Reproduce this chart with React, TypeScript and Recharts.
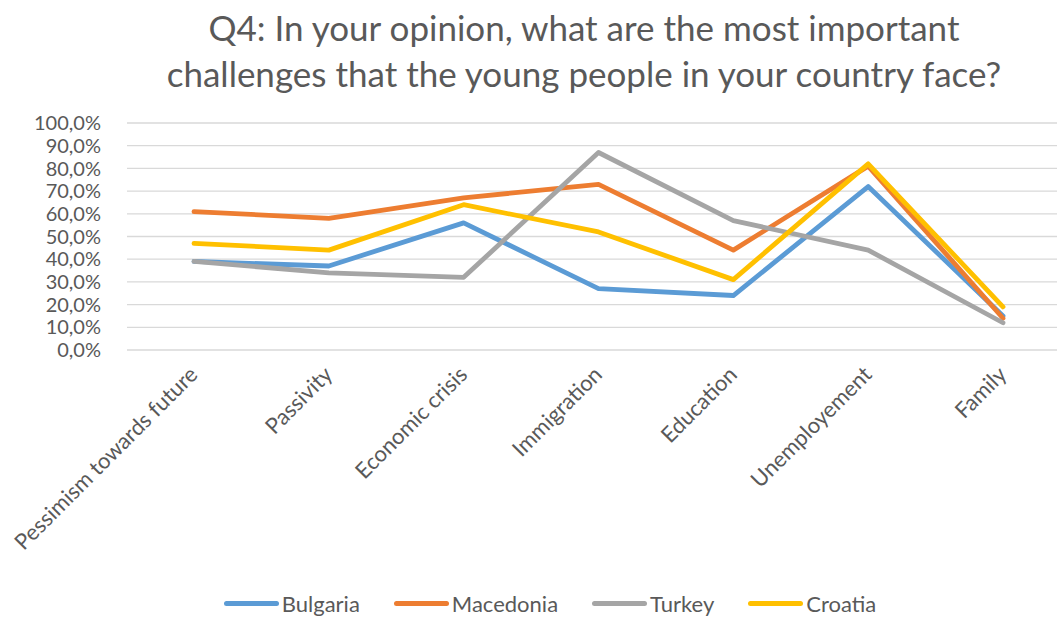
import { LineChart, Line, XAxis, YAxis, CartesianGrid } from "recharts";

const categories = [
  "Pessimism towards future",
  "Passivity",
  "Economic crisis",
  "Immigration",
  "Education",
  "Unemployement",
  "Family",
];

const bulgaria = [39, 37, 56, 27, 24, 72, 15];
const macedonia = [61, 58, 67, 73, 44, 81, 14];
const turkey = [39, 34, 32, 87, 57, 44, 12];
const croatia = [47, 44, 64, 52, 31, 82, 19];

const yTicks = [0, 10, 20, 30, 40, 50, 60, 70, 80, 90, 100];

const series = [
  { key: "Bulgaria", values: bulgaria, color: "#5B9BD5" },
  { key: "Macedonia", values: macedonia, color: "#ED7D31" },
  { key: "Turkey", values: turkey, color: "#A5A5A5" },
  { key: "Croatia", values: croatia, color: "#FFC000" },
];

const data = categories.map((name, i) => {
  const row: Record<string, string | number> = { name };
  series.forEach((s) => {
    row[s.key] = s.values[i];
  });
  return row;
});

const FONT = "Lato, 'Open Sans', sans-serif";
const TEXT = "#595959";

function XTick(props: any) {
  const { x, y, payload } = props;
  const ax = x + 5;
  const ay = y + 18;
  return (
    <text
      x={ax}
      y={ay}
      textAnchor="end"
      fill={TEXT}
      fontSize={22}
      fontFamily={FONT}
      transform={`rotate(-45, ${ax}, ${ay})`}
    >
      {payload.value}
    </text>
  );
}

export default function App() {
  return (
    <div
      style={{
        position: "absolute",
        left: 0,
        top: 0,
        width: 1057,
        height: 617,
        overflow: "hidden",
        background: "#fff",
        fontFamily: FONT,
      }}
    >
      <div
        style={{
          position: "absolute",
          left: 84,
          width: 1000,
          top: 4,
          textAlign: "center",
          color: TEXT,
          fontSize: 35,
          lineHeight: "46px",
        }}
      >
        Q4: In your opinion, what are the most important
        <br />
        challenges that the young people in your country face?
      </div>
      <LineChart
        width={1070}
        height={617}
        data={data}
        margin={{ top: 123, right: 0, left: 0, bottom: 0 }}
        style={{ position: "absolute", left: 0, top: 0 }}
      >
        <CartesianGrid vertical={false} stroke="#D9D9D9" strokeWidth={1.3} />
        <XAxis
          dataKey="name"
          axisLine={false}
          tickLine={false}
          interval={0}
          height={267}
          padding={{ left: 67, right: 67 }}
          tick={<XTick />}
        />
        <YAxis
          width={127}
          domain={[0, 100]}
          ticks={yTicks}
          interval={0}
          axisLine={false}
          tickLine={false}
          tickFormatter={(v: number) => `${v.toFixed(1).replace(".", ",")}%`}
          tick={{ fill: TEXT, fontSize: 20, fontFamily: FONT }}
          tickMargin={20}
        />
        {series.map((s) => (
          <Line
            key={s.key}
            dataKey={s.key}
            type="linear"
            stroke={s.color}
            strokeWidth={4.8}
            dot={false}
            strokeLinecap="round"
            strokeLinejoin="round"
            isAnimationActive={false}
          />
        ))}
      </LineChart>
      <div
        style={{
          position: "absolute",
          top: 590,
          left: 0,
          width: 1100,
          display: "flex",
          justifyContent: "center",
          gap: 34,
          color: TEXT,
          fontSize: 22,
          boxSizing: "border-box",
        }}
      >
        {series.map((s) => (
          <div key={s.key} style={{ display: "flex", alignItems: "center" }}>
            <span
              style={{
                display: "inline-block",
                width: 55,
                height: 5,
                borderRadius: 3,
                background: s.color,
                marginRight: 3,
              }}
            />
            <span>{s.key}</span>
          </div>
        ))}
      </div>
    </div>
  );
}
